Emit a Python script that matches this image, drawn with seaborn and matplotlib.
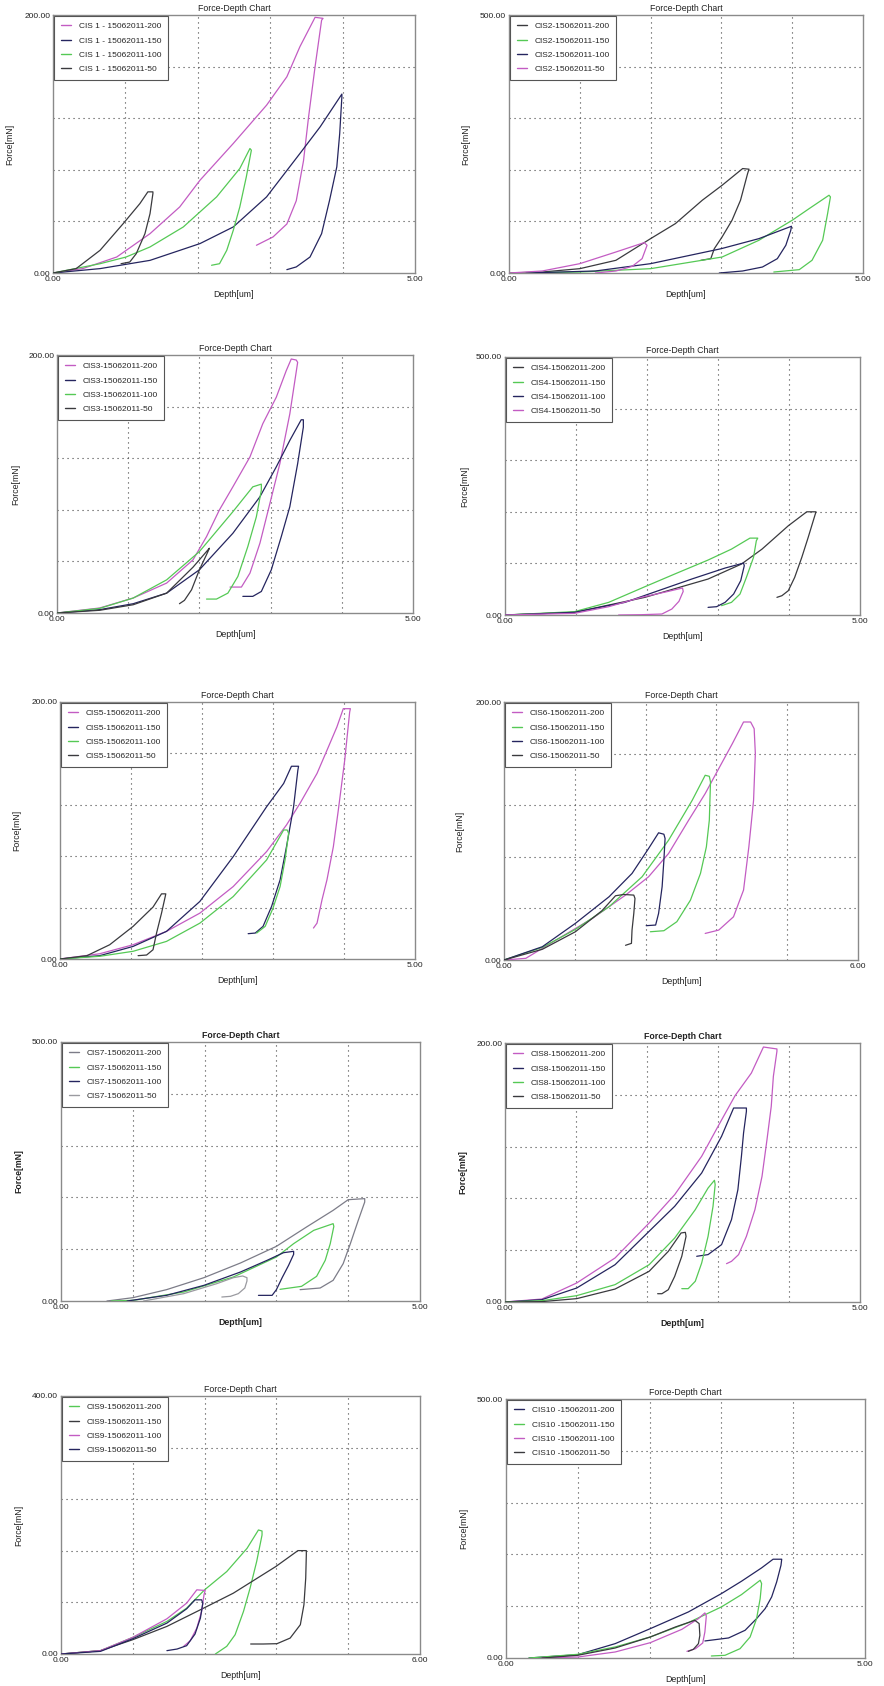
import matplotlib
matplotlib.use("Agg")
import matplotlib.pyplot as plt
import pandas as pd
import seaborn as sns
from matplotlib.lines import Line2D

sns.set_style("white")
plt.rcParams['font.family'] = ['Liberation Sans', 'DejaVu Sans']

LOADS = ["200", "150", "100", "50"]
SAMPLES = ["CIS 1 - ", "CIS2-", "CIS3-", "CIS4-", "CIS5-", "CIS6-", "CIS7-", "CIS8-", "CIS9-", "CIS10 -"]
DATE = "15062011"
X_MAX = [5, 5, 5, 5, 5, 6, 5, 5, 6, 5]
Y_MAX = [200, 500, 200, 500, 200, 200, 500, 200, 400, 500]

# ---- Panel 1 ----
D1_200 = [0, 0.41, 0.88, 1.34, 1.75, 2.03, 2.49, 2.95, 3.23, 3.41, 3.62, 3.73, 3.71, 3.62, 3.53, 3.46, 3.36, 3.23, 3.04, 2.81]
F1_200 = [0, 3.4, 12.4, 30.5, 51.2, 71.9, 100.4, 130.1, 152.1, 175.4, 198.2, 197.4, 196, 160, 121, 87, 56, 38, 28, 21.5]
D1_150 = [0, 0.65, 1.34, 2.03, 2.49, 2.95, 3.41, 3.69, 3.99, 3.99, 3.96, 3.92, 3.82, 3.71, 3.55, 3.36, 3.23]
F1_150 = [0, 3.4, 9.8, 22.8, 35.7, 59, 92.6, 113.3, 138.7, 136.6, 108.1, 82.3, 56.4, 30.5, 12.4, 4.7, 2.6]
D1_100 = [0, 0.65, 1.01, 1.34, 1.80, 2.26, 2.58, 2.72, 2.74, 2.67, 2.58, 2.49, 2.40, 2.30, 2.19]
F1_100 = [0, 7.2, 12.4, 20.2, 35.7, 59, 81, 96.5, 95.2, 74.5, 51.2, 33.1, 17.6, 7.2, 6]
D1_50 = [0, 0.32, 0.65, 0.97, 1.20, 1.31, 1.38, 1.38, 1.34, 1.27, 1.15, 1.06, 0.94]
F1_50 = [0, 3.4, 17.6, 38.3, 53.8, 62.9, 62.9, 61.6, 46, 30.5, 15, 8.5, 7.2]

# ---- Panel 2 ----
D2_200 = [0, 0.47, 1.00, 1.51, 2.00, 2.35, 2.73, 3.01, 3.30, 3.39, 3.37, 3.27, 3.15, 3.01, 2.90, 2.85, 2.71]
F2_200 = [0, 1.9, 8.4, 24.6, 66.6, 95.7, 141, 170, 202.4, 201.2, 192.7, 141, 102.2, 69.9, 47.2, 27.8, 24.6]
D2_150 = [0, 1.00, 2.00, 3.01, 3.53, 4.00, 4.24, 4.52, 4.54, 4.50, 4.43, 4.28, 4.10, 3.74]
F2_150 = [0, 1.9, 8.4, 31, 63.4, 102.2, 124.8, 150.7, 147.5, 115.1, 63.4, 24.6, 6.5, 1.9]
D2_100 = [0.24, 1.22, 2.00, 3.00, 3.53, 3.99, 3.98, 3.91, 3.79, 3.58, 3.30, 2.97]
F2_100 = [0, 3.9, 18.1, 47.2, 66.6, 90.6, 82.8, 53.7, 27.8, 11.6, 3.9, 0]
D2_50 = [0, 0.47, 1.00, 1.51, 1.91, 1.95, 1.88, 1.74, 1.51, 1.22]
F2_50 = [0, 3.9, 18.1, 40.7, 58.9, 53.7, 27.8, 12.9, 3.9, 0]

# ---- Panel 3 ----
D3_200 = [0, 0.60, 1.07, 1.54, 1.91, 2.10, 2.28, 2.47, 2.71, 2.89, 3.08, 3.22, 3.29, 3.36, 3.38, 3.27, 3.13, 2.99, 2.85, 2.71, 2.59, 2.43]
F3_200 = [0, 3.9, 11.6, 23.2, 41.2, 59.2, 79.8, 97.8, 121, 146.7, 167.3, 187.9, 196.9, 196.1, 194.3, 154.4, 115.8, 84.9, 54.1, 30.9, 20.1, 20.1]
D3_150 = [0, 0.60, 1.07, 1.54, 2.00, 2.47, 2.85, 3.08, 3.27, 3.43, 3.46, 3.46, 3.38, 3.27, 3.15, 3.01, 2.87, 2.75, 2.61]
F3_150 = [0, 2.6, 7.2, 15.4, 33.5, 61.8, 90.1, 113.3, 133.8, 149.8, 149.8, 144.1, 115.8, 82.4, 59.2, 33.5, 16.7, 12.9, 12.9]
D3_100 = [0, 0.60, 1.07, 1.54, 2.00, 2.47, 2.75, 2.87, 2.87, 2.80, 2.68, 2.54, 2.40, 2.24, 2.10]
F3_100 = [0, 3.6, 11.6, 25.7, 47.6, 78.5, 97.8, 99.9, 95.2, 74.6, 51.5, 28.3, 15.4, 10.8, 10.8]
D3_50 = [0, 0.60, 1.07, 1.54, 1.91, 2.14, 2.12, 2.00, 1.89, 1.79, 1.72]
F3_50 = [0, 2.1, 6.4, 15.4, 35.5, 50.2, 47.6, 33.5, 18, 9.8, 7.2]

# ---- Panel 4 ----
D4_200 = [0, 0.98, 1.97, 2.86, 3.33, 3.62, 3.99, 4.25, 4.38, 4.37, 4.27, 4.18, 4.08, 3.99, 3.90, 3.83]
F4_200 = [0, 5.2, 34.2, 69.7, 98.7, 127.7, 172.9, 200, 200, 195.5, 150.3, 111.6, 72.9, 47.1, 37.4, 34.2]
D4_150 = [0, 0.98, 1.46, 1.97, 2.39, 2.86, 3.19, 3.45, 3.56, 3.54, 3.50, 3.40, 3.31, 3.19, 3.05]
F4_150 = [0, 6.5, 24.5, 54.8, 79.4, 106.5, 127.7, 149, 149, 143.9, 111.6, 72.9, 40.6, 24.5, 18.1]
D4_100 = [0, 0.98, 1.69, 2.16, 2.63, 3.10, 3.36, 3.37, 3.32, 3.22, 3.10, 2.98, 2.86]
F4_100 = [0, 5.2, 24.5, 47.1, 69.7, 91, 100.6, 95.5, 66.5, 40.6, 24.5, 16.1, 14.8]
D4_50 = [0, 0.98, 1.46, 1.92, 2.30, 2.50, 2.51, 2.45, 2.35, 2.21, 1.92, 1.60]
F4_50 = [0, 3.2, 16.1, 34.2, 45.8, 52.3, 45.8, 26.5, 11.6, 1.9, 0.6, 0]

# ---- Panel 5 ----
D5_200 = [0, 0.56, 1.03, 1.50, 1.97, 2.44, 2.91, 3.19, 3.38, 3.62, 3.78, 3.90, 3.99, 4.09, 4.08, 4.01, 3.92, 3.85, 3.76, 3.69, 3.62, 3.57]
F5_200 = [0, 4.1, 11.1, 21.5, 35.7, 56.4, 83.6, 104.3, 121.1, 144.4, 165, 180.6, 194.8, 194.8, 192.2, 154.7, 115.9, 87.4, 61.6, 46, 27.9, 24.1]
D5_150 = [0, 0.56, 1.03, 1.50, 1.97, 2.44, 2.91, 3.15, 3.26, 3.36, 3.35, 3.29, 3.19, 3.10, 2.98, 2.86, 2.75, 2.65]
F5_150 = [0, 2.6, 9.8, 21.5, 44.8, 79.7, 118.5, 136.6, 150, 150, 146.9, 118.5, 87.4, 61.6, 40.9, 25.4, 20.2, 19.7]
D5_100 = [0, 0.56, 1.03, 1.50, 1.97, 2.44, 2.91, 3.15, 3.20, 3.22, 3.17, 3.10, 3.00, 2.89, 2.77]
F5_100 = [0, 2.1, 6, 13.7, 27.9, 48.6, 77.1, 100.4, 100.4, 97.8, 77.1, 56.4, 39.6, 25.4, 20.2]
D5_50 = [0, 0.38, 0.70, 1.03, 1.31, 1.43, 1.49, 1.48, 1.43, 1.36, 1.31, 1.22, 1.10]
F5_50 = [0, 2.6, 11.1, 25.4, 40.4, 50.7, 50.7, 48.1, 35.7, 20.2, 7.2, 3.1, 2.6]

# ---- Panel 6 ----
D6_200 = [0, 0.37, 0.93, 1.50, 2.06, 2.45, 2.79, 3.13, 3.41, 3.64, 3.87, 4.06, 4.18, 4.24, 4.26, 4.23, 4.15, 4.06, 3.89, 3.64, 3.41]
F6_200 = [0, 1.3, 16.8, 32.3, 50.3, 64.5, 82.6, 108.4, 129, 148.4, 167.7, 184.5, 184.5, 179.3, 160, 123.8, 87.7, 54.2, 33.5, 23.2, 20.6]
D6_150 = [0, 0.65, 1.21, 1.78, 2.34, 2.79, 3.19, 3.41, 3.48, 3.50, 3.48, 3.43, 3.33, 3.16, 2.93, 2.71, 2.48]
F6_150 = [0, 9.8, 23.7, 41.3, 64.5, 92.9, 123.8, 143.2, 142.4, 138, 108.4, 87.7, 67.1, 46.4, 29.7, 22.7, 21.9]
D6_100 = [0, 0.65, 1.21, 1.78, 2.17, 2.45, 2.62, 2.71, 2.73, 2.71, 2.68, 2.62, 2.57, 2.41]
F6_100 = [0, 10.3, 28.4, 49, 67.1, 86.4, 98.6, 97.5, 94.2, 77.4, 56.8, 36.1, 27.1, 26.6]
D6_50 = [0, 0.65, 1.21, 1.66, 1.89, 2.03, 2.20, 2.22, 2.20, 2.17, 2.16, 2.06]
F6_50 = [0, 8.3, 21.9, 38.2, 49.8, 50.8, 50.3, 47.7, 36.1, 23.2, 12.9, 11.4]

# ---- Panel 7 ----
D7_200 = [0.64, 1.00, 1.47, 1.99, 2.50, 3.00, 3.42, 3.79, 4.00, 4.23, 4.23, 4.14, 4.03, 3.93, 3.79, 3.61, 3.33]
F7_200 = [0, 6.4, 21.9, 45, 73.4, 105.5, 142.9, 175, 195.6, 197.6, 191.1, 155.7, 110.7, 72.1, 39.9, 25.1, 21.9]
D7_150 = [0.70, 1.01, 1.71, 2.40, 3.00, 3.24, 3.52, 3.79, 3.80, 3.75, 3.68, 3.56, 3.35, 3.05]
F7_150 = [0, 1.3, 17.4, 46.3, 84.9, 110.7, 136.4, 149.3, 144.1, 110.7, 78.5, 47.6, 28.3, 22.5]
D7_100 = [0.92, 1.47, 1.99, 2.50, 2.87, 3.10, 3.24, 3.24, 3.17, 3.08, 3.00, 2.94, 2.75]
F7_100 = [0, 10.9, 30.2, 56, 78.5, 93.3, 95.9, 90.1, 68.9, 45, 21.9, 10.9, 10.9]
D7_50 = [1.15, 1.71, 2.17, 2.40, 2.53, 2.59, 2.59, 2.56, 2.47, 2.36, 2.24]
F7_50 = [0, 14.2, 33.5, 45, 48.3, 45, 38.6, 25.1, 14.2, 9, 7.7]

# ---- Panel 8 ----
D8_200 = [0, 0.52, 1.01, 1.55, 2.03, 2.39, 2.77, 3.00, 3.24, 3.47, 3.64, 3.83, 3.83, 3.78, 3.75, 3.69, 3.62, 3.52, 3.40, 3.29, 3.19, 3.12]
F8_200 = [0, 2.3, 14.7, 34, 61, 82.9, 112.5, 135.6, 159.3, 176.8, 196.9, 195.4, 193.6, 174.3, 151.1, 125.4, 97, 71.3, 50.7, 36.6, 31.4, 29.6]
D8_150 = [0, 0.52, 1.01, 1.55, 2.03, 2.39, 2.77, 3.05, 3.22, 3.40, 3.40, 3.36, 3.33, 3.28, 3.19, 3.05, 2.86, 2.70]
F8_150 = [0, 1.8, 10.8, 28.8, 54.6, 73.9, 99.6, 127.9, 149.8, 149.8, 147.2, 130.5, 112.5, 86.7, 63.6, 44.3, 36.6, 35.3]
D8_100 = [0, 0.52, 1.01, 1.55, 2.03, 2.39, 2.68, 2.86, 2.95, 2.96, 2.93, 2.86, 2.77, 2.68, 2.58, 2.49]
F8_100 = [0, 1, 4.9, 13.4, 28.8, 49.4, 71.3, 88, 94, 90.6, 73.9, 50.7, 30.1, 16, 10.3, 10.3]
D8_50 = [0, 0.52, 1.01, 1.55, 2.03, 2.30, 2.48, 2.54, 2.55, 2.49, 2.39, 2.30, 2.21, 2.15]
F8_50 = [0, 0.3, 2.6, 10, 23.7, 39.1, 53.3, 53.8, 50.7, 35.3, 19.8, 9.5, 6.4, 6.4]

# ---- Panel 9 ----
D9_200 = [0, 0.66, 1.20, 1.77, 2.10, 2.40, 2.77, 3.11, 3.30, 3.36, 3.36, 3.27, 3.16, 3.05, 2.91, 2.77, 2.58]
F9_200 = [0, 5.2, 25.8, 50.5, 71.1, 99.5, 127.8, 163.9, 192.3, 190.7, 184.5, 143.3, 102.1, 66, 29.9, 11.9, 0]
D9_150 = [0, 0.66, 1.20, 1.77, 2.33, 2.88, 3.59, 3.96, 4.10, 4.10, 4.09, 4.06, 4.00, 3.83, 3.61, 3.38, 3.17]
F9_150 = [0, 5.2, 22.2, 42.8, 68.6, 94.3, 135.6, 160.3, 160.3, 153.6, 117.5, 76.3, 45.4, 24.7, 16, 15.5, 15.5]
D9_100 = [0, 0.66, 1.20, 1.77, 2.10, 2.27, 2.41, 2.39, 2.35, 2.27, 2.16, 2.05]
F9_100 = [0, 5.2, 25.8, 54.6, 78.9, 99.5, 98.5, 91.8, 66, 40.2, 20.6, 11.9]
D9_50 = [0, 0.66, 1.20, 1.77, 2.10, 2.24, 2.35, 2.37, 2.33, 2.24, 2.10, 1.94, 1.77]
F9_50 = [0, 4.1, 23.7, 47.9, 70.1, 84, 84, 78.9, 55.7, 30.9, 12.9, 7.7, 5.2]

# ---- Panel 10 ----
D10_200 = [0.32, 1.00, 1.52, 2.01, 2.54, 3.00, 3.28, 3.56, 3.72, 3.84, 3.83, 3.77, 3.70, 3.61, 3.49, 3.33, 3.10, 2.77]
F10_200 = [0, 6.4, 27.7, 56.7, 88.9, 124.3, 148.2, 174, 190.7, 190.7, 179.1, 146.9, 117.9, 95.4, 76, 53.5, 38.7, 32.9]
D10_150 = [0.32, 1.00, 1.52, 2.01, 2.54, 3.00, 3.28, 3.54, 3.56, 3.54, 3.49, 3.40, 3.26, 3.05, 2.86]
F10_150 = [0, 7.1, 21.3, 40.6, 68.3, 98.6, 122.4, 150.1, 143.7, 114.7, 76, 40.6, 18, 5.2, 3.9]
D10_100 = [0.50, 1.00, 1.52, 2.01, 2.45, 2.68, 2.77, 2.79, 2.77, 2.74, 2.64, 2.52]
F10_100 = [0, 1.9, 11.6, 29.6, 55.4, 76, 87, 81.2, 50.3, 29, 18, 12.9]
D10_50 = [0.50, 1.00, 1.52, 2.01, 2.36, 2.63, 2.69, 2.70, 2.68, 2.61, 2.54]
F10_50 = [0, 5.2, 19.3, 40.6, 59.9, 72.8, 66.4, 43.8, 27.7, 16.8, 12.9]

CURVES = [
    [(D1_200, F1_200), (D1_150, F1_150), (D1_100, F1_100), (D1_50, F1_50)],
    [(D2_200, F2_200), (D2_150, F2_150), (D2_100, F2_100), (D2_50, F2_50)],
    [(D3_200, F3_200), (D3_150, F3_150), (D3_100, F3_100), (D3_50, F3_50)],
    [(D4_200, F4_200), (D4_150, F4_150), (D4_100, F4_100), (D4_50, F4_50)],
    [(D5_200, F5_200), (D5_150, F5_150), (D5_100, F5_100), (D5_50, F5_50)],
    [(D6_200, F6_200), (D6_150, F6_150), (D6_100, F6_100), (D6_50, F6_50)],
    [(D7_200, F7_200), (D7_150, F7_150), (D7_100, F7_100), (D7_50, F7_50)],
    [(D8_200, F8_200), (D8_150, F8_150), (D8_100, F8_100), (D8_50, F8_50)],
    [(D9_200, F9_200), (D9_150, F9_150), (D9_100, F9_100), (D9_50, F9_50)],
    [(D10_200, F10_200), (D10_150, F10_150), (D10_100, F10_100), (D10_50, F10_50)],
]

MAG = "#c35cc3"
NAVY = "#25255f"
GREEN = "#55c955"
DARK = "#3a3a3e"
GRAY = "#7c7c88"
COLORS = [
    [MAG, NAVY, GREEN, DARK],
    [DARK, GREEN, NAVY, MAG],
    [MAG, NAVY, GREEN, DARK],
    [DARK, GREEN, NAVY, MAG],
    [MAG, NAVY, GREEN, DARK],
    [MAG, GREEN, NAVY, DARK],
    [GRAY, GREEN, NAVY, "#9a9aa0"],
    [MAG, NAVY, GREEN, DARK],
    [GREEN, DARK, MAG, NAVY],
    [NAVY, GREEN, MAG, DARK],
]

# axes boxes in pixels (left, top, right, bottom) and y-label x position
BOXES = [
    (53, 15, 415, 273), (509, 15, 863, 273),
    (57, 355, 413, 613), (505, 357, 860, 615),
    (60, 702, 415, 959), (504, 702, 858, 960),
    (61, 1042, 420, 1301), (505, 1043, 860, 1302),
    (61, 1396, 420, 1654), (506, 1399, 865, 1658),
]
YLAB_X = [14, 470, 20, 469, 21, 464, 23, 467, 23, 468]
BOLD = [False] * 6 + [True, True, False, False]

W, H = 884, 1686
fig = plt.figure(figsize=(W / 100, H / 100), dpi=100)
fig.patch.set_facecolor("white")

for i in range(10):
    l, t, r, b = BOXES[i]
    ax = fig.add_axes([l / W, 1 - b / H, (r - l) / W, (b - t) / H])
    xmax, ymax = X_MAX[i], Y_MAX[i]
    labels = [f"{SAMPLES[i]}{DATE}-{ld}" for ld in LOADS]
    rows = []
    for lab, (dx, fy) in zip(labels, CURVES[i]):
        for k, (d, f) in enumerate(zip(dx, fy)):
            rows.append({"Depth": d, "Force": f, "Series": lab, "k": k})
    df = pd.DataFrame(rows)
    sns.lineplot(data=df, x="Depth", y="Force", hue="Series", hue_order=labels,
                 palette=COLORS[i], sort=False, estimator=None, legend=False,
                 linewidth=0.9, ax=ax, zorder=3)
    ax.set_xlim(0, xmax)
    ax.set_ylim(0, ymax)
    for j in range(1, 5):
        ax.axvline(xmax * j / 5, color="#444444", lw=0.8, ls=(0, (1, 3.5)), zorder=1)
        ax.axhline(ymax * j / 5, color="#444444", lw=0.8, ls=(0, (1, 3.5)), zorder=1)
    ax.set_xticks([0, xmax])
    ax.set_xticklabels([f"{0:.2f}", f"{xmax:.2f}"])
    ax.set_yticks([0, ymax])
    ax.set_yticklabels([f"{0:.2f}", f"{ymax:.2f}"])
    ax.tick_params(length=0, labelsize=6, pad=2, colors="#222222")
    for s in ax.spines.values():
        s.set_color("#8a8a8a")
        s.set_linewidth(1.0)
    fw = "bold" if BOLD[i] else "normal"
    ax.set_title("Force-Depth Chart", fontsize=6.3, pad=3, color="#222222", fontweight=fw)
    ax.set_xlabel("Depth[um]", fontsize=6.3, color="#222222", fontweight=fw)
    ax.set_ylabel("Force[mN]", fontsize=6.3, color="#222222", fontweight=fw)
    ax.xaxis.set_label_coords(0.5, -17 / (b - t))
    ax.yaxis.set_label_coords((YLAB_X[i] - l) / (r - l), 0.5)
    handles = [Line2D([0], [0], color=c, lw=1.0) for c in COLORS[i]]
    leg = ax.legend(handles, labels, loc="upper left", bbox_to_anchor=(0, 1),
                    borderaxespad=0.15, fontsize=6, handlelength=1.3,
                    handletextpad=0.9, labelspacing=0.78, borderpad=0.75,
                    fancybox=False, framealpha=1, edgecolor="#555555")
    leg.get_frame().set_linewidth(0.8)
    leg.set_zorder(5)

fig.savefig("out.png", dpi=100, facecolor="white")
